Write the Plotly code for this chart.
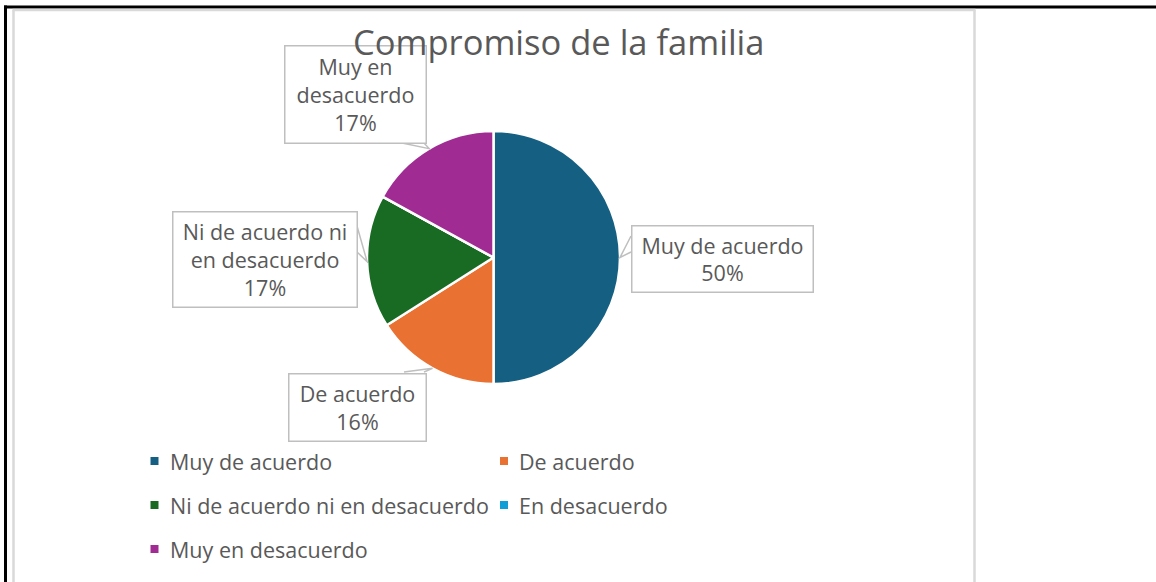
import math
import plotly.graph_objects as go

# ---------------- data ----------------
categories = ["Muy de acuerdo", "De acuerdo", "Ni de acuerdo ni en desacuerdo",
              "En desacuerdo", "Muy en desacuerdo"]
values = [50, 16, 17, 0, 17]
colors = ["#156082", "#E97132", "#196B24", "#0F9ED5", "#A02B93"]
title_text = "Compromiso de la familia"
# how each callout wraps its category text
label_lines = {
    "Muy de acuerdo": ["Muy de acuerdo"],
    "De acuerdo": ["De acuerdo"],
    "Ni de acuerdo ni en desacuerdo": ["Ni de acuerdo ni", "en desacuerdo"],
    "Muy en desacuerdo": ["Muy en", "desacuerdo"],
}

# ---------------- layout constants (pixels) ----------------
W, H = 1156, 582
CX, CY, R = 493.5, 257.5, 126.5
FONT = "Open Sans"
TXT = "#595959"
BOXC = "#BFBFBF"
LBL_SIZE = 21.5
TITLE_SIZE = 34.5

# callout boxes: (x0, y0, x1, y1) and the two base points of the pointer
callouts = {
    "Muy de acuerdo": ((631, 224, 813, 291), ((631, 236), (631, 252))),
    "De acuerdo": ((288, 372, 426, 440), ((404, 372), (424, 372))),
    "Ni de acuerdo ni en desacuerdo": ((172, 210, 357, 306), ((357, 226), (357, 252))),
    "Muy en desacuerdo": ((284, 45, 426, 143), ((402, 143), (424, 143))),
}

legend_cols_sq = [154.5, 504.0]
legend_cols_tx = [168, 517]
legend_rows = [461, 505, 549]


def px(x):
    return x / W


def py(y):
    return 1 - y / H


fig = go.Figure()
fig.add_trace(go.Pie(
    labels=categories, values=values, sort=False, direction="clockwise",
    rotation=0, textinfo="none", showlegend=False,
    marker=dict(colors=colors, line=dict(color="white", width=2.5)),
    domain=dict(x=[px(CX - R), px(CX + R)], y=[py(CY + R), py(CY - R)]),
))

shapes = []
annotations = []

# frame lines
shapes.append(dict(type="line", xref="paper", yref="paper", x0=px(4), x1=px(W), y0=py(7), y1=py(7),
                   line=dict(color="black", width=3)))
shapes.append(dict(type="line", xref="paper", yref="paper", x0=px(5.5), x1=px(5.5), y0=py(5.5), y1=py(H + 2),
                   line=dict(color="black", width=3)))
for (x0, y0, x1, y1) in [(13.5, 10, 13.5, H + 2), (12.5, 10, 975.5, 10), (974.5, 10, 974.5, H + 2)]:
    shapes.append(dict(type="line", xref="paper", yref="paper", x0=px(x0), x1=px(x1), y0=py(y0), y1=py(y1),
                       line=dict(color="#D9D9D9", width=2.5)))

# callouts
total = sum(values)
cum = 0.0
for cat, v in zip(categories, values):
    start = cum
    cum += v
    if v == 0 or cat not in callouts:
        continue
    mid = (start + v / 2) / total * 2 * math.pi
    tx, ty = CX + R * math.sin(mid), CY - R * math.cos(mid)
    (x0, y0, x1, y1), (b1, b2) = callouts[cat]
    pct = f"{round(v / total * 100)}%"
    text = "<br>".join(label_lines[cat] + [pct])
    annotations.append(dict(text=text, x=px((x0 + x1) / 2), y=py((y0 + y1) / 2 + 1), xref="paper", yref="paper",
                            xanchor="center", yanchor="middle", showarrow=False,
                            width=x1 - x0 - 2, height=y1 - y0 - 2, borderpad=0,
                            bordercolor=BOXC, borderwidth=1.5, bgcolor="white",
                            font=dict(family=FONT, size=LBL_SIZE, color=TXT)))
    path = f"M {px(b1[0])},{py(b1[1])} L {px(tx)},{py(ty)} L {px(b2[0])},{py(b2[1])}"
    shapes.append(dict(type="path", xref="paper", yref="paper", path=path,
                       line=dict(color=BOXC, width=1.5), layer="above"))

# title (drawn after the callouts so it sits on top)
annotations.append(dict(text=title_text, x=px(558.5), y=py(42), xref="paper", yref="paper",
                        xanchor="center", yanchor="middle", showarrow=False,
                        font=dict(family=FONT, size=TITLE_SIZE, color=TXT)))

# legend
for i, (cat, col) in enumerate(zip(categories, colors)):
    r, c = divmod(i, 2)
    sx, sy = legend_cols_sq[c], legend_rows[r]
    shapes.append(dict(type="rect", xref="paper", yref="paper",
                       x0=px(sx - 4), x1=px(sx + 4), y0=py(sy + 4), y1=py(sy - 4),
                       fillcolor=col, line=dict(width=0)))
    annotations.append(dict(text=cat, x=px(legend_cols_tx[c]), y=py(sy), xref="paper", yref="paper",
                            xanchor="left", yanchor="middle", showarrow=False,
                            font=dict(family=FONT, size=LBL_SIZE, color=TXT)))

fig.update_layout(
    width=W, height=H, autosize=False,
    margin=dict(l=0, r=0, t=0, b=0),
    paper_bgcolor="white", plot_bgcolor="white",
    shapes=shapes, annotations=annotations,
    showlegend=False,
)
fig.write_html("out.html", config={"displayModeBar": False},
               post_script="document.body.style.margin='0';document.body.style.overflow='hidden';")
